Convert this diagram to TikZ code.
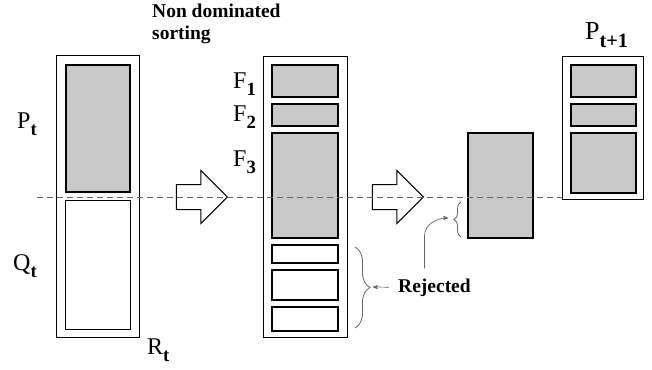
\documentclass[tikz,border=0pt]{standalone}
\usepackage{fontspec}
\setmainfont{Liberation Serif}
\usepackage{tikz}
\usetikzlibrary{arrows,shapes,decorations.pathreplacing}
\definecolor{boxgray}{gray}{0.79}
\definecolor{linegray}{gray}{0.4}
\tikzstyle{colbox}=[draw,fill=white,line width=0.9pt,inner sep=0pt]
\tikzstyle{frontbox}=[draw,fill=boxgray,line width=1.8pt,inner sep=0pt]
\tikzstyle{rejbox}=[draw,fill=white,line width=1.5pt,inner sep=0pt]
\tikzstyle{setname}=[anchor=base west,inner sep=0pt,font=\fontsize{24}{26}\selectfont]
\tikzstyle{bigarrow}=[single arrow,draw,line width=1pt,fill=white,inner xsep=0pt,inner ysep=12pt,
    anchor=tip,minimum height=51pt,single arrow head extend=14pt]
\tikzstyle{cutline}=[draw,linegray,line width=0.8pt,dash pattern=on 6pt off 4pt]
\tikzstyle{bracket}=[draw,linegray,line width=0.8pt,decorate]
\tikzstyle{pointer}=[draw,linegray,line width=0.7pt,->,>=stealth']
\tikzstyle{note}=[inner sep=0pt,align=left,font=\fontsize{19.5}{22}\selectfont\bfseries]
\newcommand{\setlabel}[2]{#1\raisebox{-0.3em}{\scalebox{0.78}{\bfseries #2}}}

\begin{document}
\begin{tikzpicture}[x=1pt,y=-1pt]
    \useasboundingbox (0,0) rectangle (652,369);
    % First we draw the three columns
    \foreach \pos/\w/\h/\name in {{(97.5,196)/83/282/Rt}, {(305,196.5)/84/281/Ct}, {(602.5,127.5)/81/143/Pnext}}
        \node[colbox,minimum width=\w,minimum height=\h] (\name) at \pos {};
    % Then the fronts that are kept
    \foreach \pos/\w/\h/\name in {{(98,128.5)/64/127/Pt}, {(305,81)/66/32/F1}, {(305,115)/66/22/F2},
        {(305,185.5)/66/105/F3}, {(500.5,185.5)/65/105/F3part},
        {(603.5,81)/65/32/N1}, {(603.5,115)/65/22/N2}, {(603.5,163)/65/60/N3}}
        \node[frontbox,minimum width=\w,minimum height=\h] (\name) at \pos {};
    \node[colbox,line width=0.7pt,minimum width=65,minimum height=129] (Qt) at (97.5,264.5) {};
    % Fronts that are thrown away
    \foreach \pos/\h/\name in {{(305,254)/18/R1}, {(305,285)/30/R2}, {(305,319)/24/R3}}
        \node[rejbox,minimum width=66,minimum height=\h] (\name) at \pos {};

    % Set names
    \node[setname] (lPt) at (17,128) {\setlabel{P}{t}};
    \node[setname] (lQt) at (13,270) {\setlabel{Q}{t}};
    \node[setname] (lRt) at (147,354) {\setlabel{R}{t}};
    \foreach \y/\i in {88/1, 121/2, 166/3}
        \node[setname] (lF\i) at (233,\y) {\setlabel{F}{\i}};
    \node[setname,font=\fontsize{26}{28}\selectfont] (lPnext) at (585,40) {\setlabel{P}{t+1}};
    \node[note,anchor=north west] (nds) at (152,4) {Non dominated\\sorting};

    % Block arrows
    \node[bigarrow] (arr1) at (228,197) {};
    \node[bigarrow] (arr2) at (424,197) {};

    % Cut line
    \coordinate (cutstart) at (37,197);
    \path[cutline] (cutstart) -- (cutstart -| Pnext.west);

    % Rejected part
    \coordinate (b1top) at (355,247);
    \coordinate (b1bot) at (355,328);
    \coordinate (b1tip) at (373,287);
    \coordinate (b2top) at (461,202);
    \coordinate (b2bot) at (461,237);
    \coordinate (b2tip) at (448,218);
    \path[bracket,decoration={brace,amplitude=15pt}] (b1top) -- (b1bot);
    \path[bracket,decoration={brace,amplitude=7pt}] (b2bot) -- (b2top);
    \node[note,anchor=base west] (rej) at (398,292) {Rejected};
    \path[pointer,shorten <=9pt] (rej.west) -- (b1tip);
    \path[pointer] ([xshift=-10pt,yshift=10pt]rej.north) -- ++(0,-32) to[out=90,in=180] (b2tip);
\end{tikzpicture}
\end{document}
